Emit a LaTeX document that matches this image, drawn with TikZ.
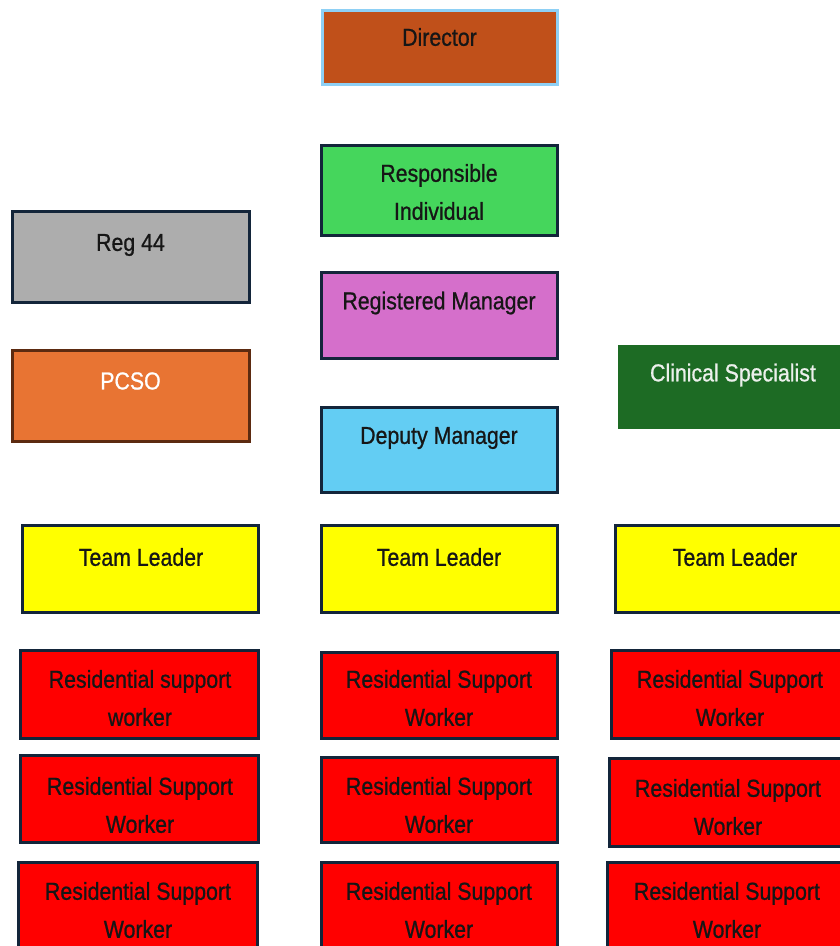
\documentclass[tikz,border=0pt]{standalone}
\usepackage{fontspec}
\setmainfont{Liberation Sans}[FakeStretch=0.87,FakeBold=0.8]
\definecolor{dirfill}{HTML}{C0501A}
\definecolor{dirline}{HTML}{8ED0F5}
\definecolor{rifill}{HTML}{45D65C}
\definecolor{reggray}{HTML}{ADADAD}
\definecolor{rmfill}{HTML}{D56FCB}
\definecolor{pcsofill}{HTML}{E87433}
\definecolor{pcsoline}{HTML}{5C2A10}
\definecolor{clinfill}{HTML}{1D6B24}
\definecolor{dmfill}{HTML}{63CDF3}
\definecolor{tlfill}{HTML}{FFFF00}
\definecolor{rswfill}{HTML}{FF0000}
\definecolor{navy}{HTML}{13253A}
\definecolor{txtdark}{HTML}{161616}
\definecolor{txtlight}{HTML}{ECF0EC}
\begin{document}
\begin{tikzpicture}[x=1pt,y=-1pt,
  orgbox/.style={draw=navy, line width=3pt, rectangle, inner sep=0pt},
  txt/.style={font=\fontsize{24.5}{38}\selectfont, text=txtdark, align=center, inner sep=0pt},
  wtxt/.style={txt, text=white},
  rsw/.style={orgbox, fill=rswfill},
  tl/.style={orgbox, fill=tlfill}]
\useasboundingbox (0,0) rectangle (840,946);
% top column
\node[orgbox, draw=dirline, fill=dirfill, minimum width=235pt, minimum height=74pt] (dir) at (439.5,47) {};
\node[txt] (dirT) at (439.5,37) {Director};
\node[orgbox, fill=rifill, minimum width=236pt, minimum height=90pt] (ri) at (439,190) {};
\node[txt] (riT) at (439,192) {Responsible\\Individual};
\node[orgbox, fill=rmfill, minimum width=236pt, minimum height=86pt] (rm) at (439,315) {};
\node[txt] (rmT) at (439,303) {Registered Manager};
\node[orgbox, fill=dmfill, minimum width=236pt, minimum height=85pt] (dm) at (439,449.5) {};
\node[txt] (dmT) at (439,438) {Deputy Manager};
% left side
\node[orgbox, fill=reggray, minimum width=237pt, minimum height=91pt] (reg) at (130.5,256.5) {};
\node[txt] (regT) at (130.5,245) {Reg 44};
\node[orgbox, draw=pcsoline, fill=pcsofill, minimum width=237pt, minimum height=91pt] (pcso) at (130.5,395.5) {};
\node[wtxt] (pcsoT) at (130.5,381) {PCSO};
% right side
\node[rectangle, fill=clinfill, inner sep=0pt, minimum width=232pt, minimum height=84pt] (clin) at (734,387) {};
\node[txt, text=txtlight] (clinT) at (733,375) {Clinical Specialist};
% team leaders
\node[tl, minimum width=236pt, minimum height=87pt] (tlL) at (140,568.5) {};
\node[txt] (tlLT) at (141,557) {Team Leader};
\node[tl, minimum width=236pt, minimum height=87pt] (tlM) at (439,568.5) {};
\node[txt] (tlMT) at (439,557) {Team Leader};
\node[tl, minimum width=235pt, minimum height=87pt] (tlR) at (732.5,568.5) {};
\node[txt] (tlRT) at (735,557) {Team Leader};
% RSW row 1
\node[rsw, minimum width=238pt, minimum height=88pt] (r1L) at (139,694) {};
\node[txt] (r1LT) at (140,698) {Residential support\\worker};
\node[rsw, minimum width=236pt, minimum height=86pt] (r1M) at (439,695) {};
\node[txt] (r1MT) at (439,698) {Residential Support\\Worker};
\node[rsw, minimum width=239pt, minimum height=88pt] (r1R) at (730.5,694) {};
\node[txt] (r1RT) at (730,698) {Residential Support\\Worker};
% RSW row 2
\node[rsw, minimum width=238pt, minimum height=87pt] (r2L) at (139,798.5) {};
\node[txt] (r2LT) at (140,805) {Residential Support\\Worker};
\node[rsw, minimum width=236pt, minimum height=85pt] (r2M) at (439,799.5) {};
\node[txt] (r2MT) at (439,805) {Residential Support\\Worker};
\node[rsw, minimum width=241pt, minimum height=88pt] (r2R) at (729.5,802) {};
\node[txt] (r2RT) at (728,807) {Residential Support\\Worker};
% RSW row 3
\node[rsw, minimum width=239pt, minimum height=98pt] (r3L) at (137.5,911) {};
\node[txt] (r3LT) at (138,910) {Residential Support\\Worker};
\node[rsw, minimum width=236pt, minimum height=98pt] (r3M) at (439,911) {};
\node[txt] (r3MT) at (439,910) {Residential Support\\Worker};
\node[rsw, minimum width=243pt, minimum height=98pt] (r3R) at (728.5,911) {};
\node[txt] (r3RT) at (727,910) {Residential Support\\Worker};
\end{tikzpicture}
\end{document}
